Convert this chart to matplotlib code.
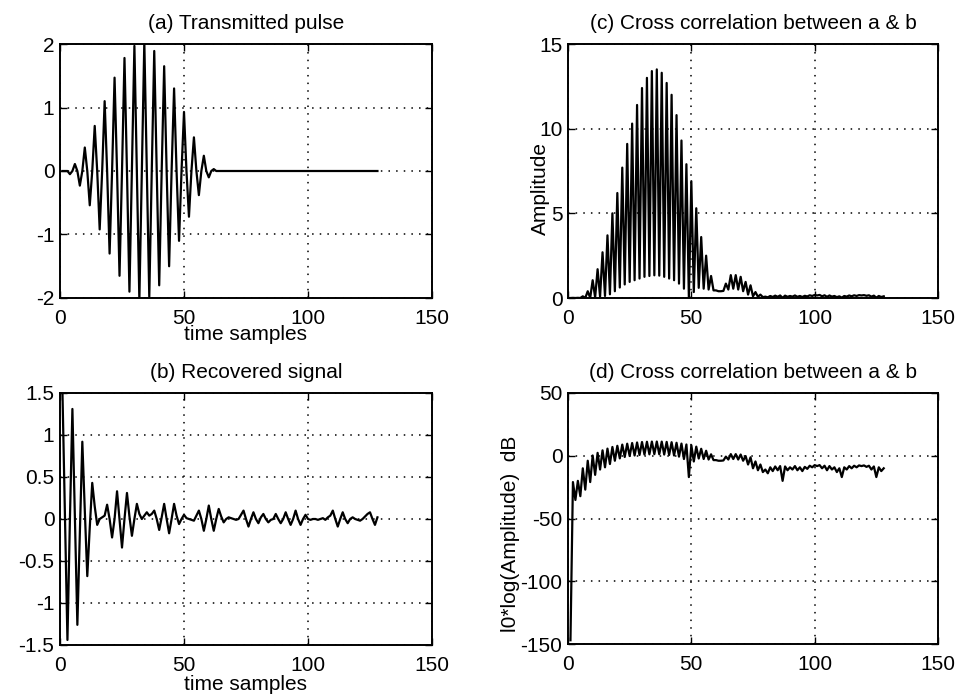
import numpy as np
import matplotlib
matplotlib.use("Agg")
import matplotlib.pyplot as plt

plt.rcParams['font.family'] = ['Liberation Sans', 'DejaVu Sans']
plt.rcParams['axes.unicode_minus'] = False

# ---------------- data ----------------
samples = np.arange(1, 129)

# (a) transmitted pulse, 128 samples
pulse = [
    0.00, 0.00, 0.00, -0.05, 0.00, 0.11, 0.00, -0.23, 0.00, 0.37,
    0.00, -0.54, 0.00, 0.71, 0.00, -0.92, 0.00, 1.10, 0.00, -1.30,
    0.00, 1.47, 0.00, -1.65, 0.00, 1.78, 0.00, -1.90, 0.00, 1.97,
    0.00, -2.03, 0.00, 2.03, 0.00, -1.98, 0.00, 1.89, 0.00, -1.80,
    0.00, 1.65, 0.00, -1.50, 0.00, 1.30, 0.00, -1.10, 0.00, 0.93,
    0.00, -0.72, 0.00, 0.53, 0.00, -0.38, 0.00, 0.24, 0.00, -0.10,
    0.00, 0.03, 0.00, 0.00, 0.00, 0.00, 0.00, 0.00, 0.00, 0.00,
    0.00, 0.00, 0.00, 0.00, 0.00, 0.00, 0.00, 0.00, 0.00, 0.00,
    0.00, 0.00, 0.00, 0.00, 0.00, 0.00, 0.00, 0.00, 0.00, 0.00,
    0.00, 0.00, 0.00, 0.00, 0.00, 0.00, 0.00, 0.00, 0.00, 0.00,
    0.00, 0.00, 0.00, 0.00, 0.00, 0.00, 0.00, 0.00, 0.00, 0.00,
    0.00, 0.00, 0.00, 0.00, 0.00, 0.00, 0.00, 0.00, 0.00, 0.00,
    0.00, 0.00, 0.00, 0.00, 0.00, 0.00, 0.00, 0.00,
]

# (b) recovered signal, 128 samples
recovered = [
    1.50, 0.00, -1.44, 0.00, 1.31, 0.00, -1.26, -0.15, 0.92, 0.10,
    -0.68, -0.10, 0.43, 0.15, -0.07, 0.00, 0.02, 0.04, 0.17, 0.00,
    -0.22, 0.00, 0.33, 0.00, -0.34, 0.00, 0.31, 0.03, -0.20, 0.00,
    0.18, 0.06, 0.00, 0.04, 0.08, 0.04, 0.06, 0.10, 0.00, -0.13,
    0.02, 0.18, 0.00, -0.17, 0.00, 0.18, 0.04, -0.06, 0.00, 0.05,
    0.01, 0.00, -0.01, -0.02, 0.04, 0.10, 0.00, -0.14, 0.00, 0.16,
    0.00, -0.14, 0.00, 0.12, 0.03, -0.04, 0.00, 0.02, 0.01, 0.00,
    -0.01, 0.00, 0.05, 0.10, 0.00, -0.09, 0.00, 0.08, 0.00, -0.05,
    0.02, 0.06, 0.00, -0.04, -0.01, 0.00, 0.06, 0.00, -0.05, 0.00,
    0.08, 0.00, -0.07, 0.00, 0.10, 0.00, -0.07, 0.00, 0.05, 0.00,
    -0.01, 0.00, 0.00, -0.01, 0.00, 0.01, -0.01, 0.02, 0.04, 0.10,
    0.00, -0.09, 0.00, 0.08, 0.00, -0.05, 0.00, 0.02, 0.00, -0.01,
    -0.02, 0.00, 0.03, 0.06, 0.08, 0.00, -0.07, 0.02,
]

# (c) cross correlation amplitude, 128 samples
xcorr_amp = [
    2e-15, 0.008, 0.0003, 0.01, 0.0006, 0.10, 0.002, 0.40, 0.008, 1.05,
    0.03, 1.70, 0.08, 2.70, 0.12, 3.70, 0.22, 5.00, 0.40, 6.20,
    0.62, 7.70, 0.80, 9.10, 0.95, 10.30, 1.05, 11.40, 1.15, 12.40,
    1.25, 13.00, 1.30, 13.40, 1.34, 13.50, 1.32, 13.30, 1.25, 12.70,
    1.15, 12.00, 1.05, 10.80, 0.85, 9.30, 0.55, 7.90, 0.02, 6.90,
    0.35, 5.30, 0.60, 3.60, 0.55, 2.50, 0.50, 1.30, 0.45, 0.45,
    0.40, 0.40, 0.42, 0.85, 0.50, 1.35, 0.55, 1.35, 0.50, 1.25,
    0.40, 0.95, 0.20, 0.75, 0.10, 0.35, 0.07, 0.20, 0.05, 0.08,
    0.04, 0.12, 0.06, 0.14, 0.07, 0.15, 0.01, 0.14, 0.07, 0.12,
    0.08, 0.15, 0.07, 0.12, 0.06, 0.13, 0.09, 0.16, 0.12, 0.18,
    0.15, 0.18, 0.10, 0.16, 0.07, 0.15, 0.08, 0.12, 0.05, 0.10,
    0.02, 0.12, 0.08, 0.15, 0.10, 0.16, 0.12, 0.17, 0.15, 0.17,
    0.13, 0.16, 0.08, 0.14, 0.02, 0.12, 0.06, 0.10,
]

titles = ["(a) Transmitted pulse", "(b) Recovered signal",
          "(c) Cross correlation between a & b",
          "(d) Cross correlation between a & b"]
x_ticks = [0, 50, 100, 150]
a_yticks = [-2, -1, 0, 1, 2]
b_yticks = [-1.5, -1, -0.5, 0, 0.5, 1, 1.5]
b_yticklabels = ["-1.5", "-1", "-0.5", "0", "0.5", "1", "1.5"]
c_yticks = [0, 5, 10, 15]
d_yticks = [-150, -100, -50, 0, 50]

# ---------------- figure ----------------
W, H = 960, 698
fig = plt.figure(figsize=(W / 100, H / 100), dpi=100)

def box(l, r, t, b):
    return [l / W, (H - b) / H, (r - l) / W, (b - t) / H]

FS = 15
ax_a = fig.add_axes(box(60, 432, 44, 298))
ax_b = fig.add_axes(box(60, 432, 393, 645))
ax_c = fig.add_axes(box(568, 938, 44, 298))
ax_d = fig.add_axes(box(568, 938, 393, 644))

def style(ax, yticks, ylim, title):
    ax.set_xlim(0, 150)
    ax.set_ylim(*ylim)
    ax.set_xticks(x_ticks)
    ax.set_yticks(yticks)
    ax.grid(True, linestyle=(0, (1, 4)), color='black', linewidth=1.1)
    ax.tick_params(direction='in', length=5, width=1, labelsize=FS,
                   top=True, right=True)
    ax.tick_params(axis='x', pad=8)
    ax.tick_params(axis='y', pad=4)
    for s in ax.spines.values():
        s.set_linewidth(1.4)
    ax.set_title(title, fontsize=FS, pad=11)

lw = 1.6
ax_a.plot(samples, pulse, color='black', linewidth=lw)
style(ax_a, a_yticks, (-2, 2), titles[0])
ax_a.set_xlabel("time samples", fontsize=FS, labelpad=-2)

ax_b.plot(samples, recovered, color='black', linewidth=lw)
style(ax_b, b_yticks, (-1.5, 1.5), titles[1])
ax_b.set_yticklabels(b_yticklabels)
ax_b.set_xlabel("time samples", fontsize=FS, labelpad=0)

amp = np.array(xcorr_amp)
ax_c.plot(samples, amp, color='black', linewidth=lw)
style(ax_c, c_yticks, (0, 15), titles[2])
ax_c.set_ylabel("Amplitude", fontsize=FS)
ax_c.yaxis.set_label_coords(-0.05, 0.43)

ax_d.plot(samples, 10 * np.log10(amp), color='black', linewidth=lw)
style(ax_d, d_yticks, (-150, 50), titles[3])
ax_d.set_ylabel("l0*log(Amplitude)  dB", fontsize=FS)
ax_d.yaxis.set_label_coords(-0.13, 0.44)

fig.savefig("out.png", dpi=100, facecolor='white')
